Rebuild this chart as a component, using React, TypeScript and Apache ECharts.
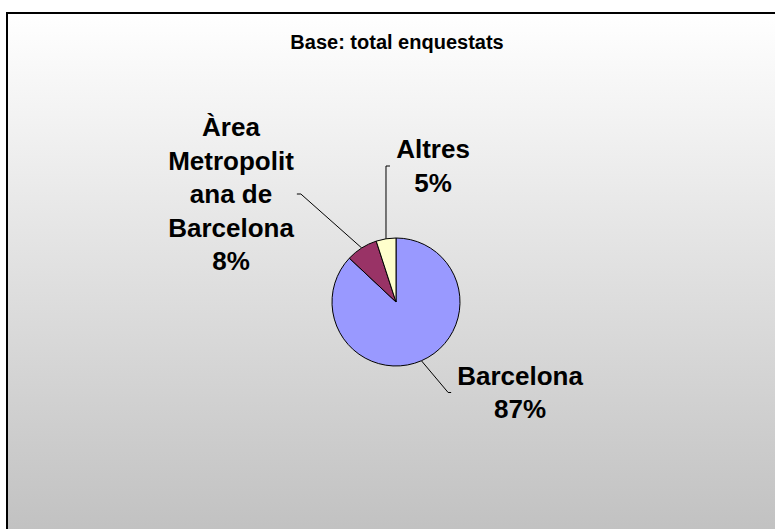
import React, { useEffect, useRef } from "react";
import * as echarts from "echarts";

const title = "Base: total enquestats";
const categories = ["Barcelona", "Àrea Metropolitana de Barcelona", "Altres"];
const labelTexts = ["Barcelona", "Àrea\nMetropolit\nana de\nBarcelona", "Altres"];
const values = [87, 8, 5];
const colors = ["#9999FF", "#993366", "#FFFFCC"];

// label layout (centre of each label block, and how the leader line joins it)
const labelLayoutCfg = [
  { x: 520, y: 392.5, side: "left", vertical: false },
  { x: 231, y: 194, side: "right", vertical: false },
  { x: 433, y: 166, side: "left", vertical: true },
];

const FONT = "'Liberation Sans', Arial, Helvetica, sans-serif";

export default function App() {
  const ref = useRef<HTMLDivElement>(null);
  useEffect(() => {
    if (!ref.current) return;
    const chart = echarts.init(ref.current, null, { renderer: "svg" });
    chart.setOption({
      animation: false,
      graphic: [
        {
          type: "rect",
          z: -10,
          shape: { x: 7, y: 13, width: 800, height: 530 },
          style: {
            fill: new echarts.graphic.LinearGradient(0, 0, 0, 1, [
              { offset: 0, color: "#FFFFFF" },
              { offset: 1, color: "#C0C0C0" },
            ]),
            stroke: "#000000",
            lineWidth: 2,
          },
        },
        {
          type: "text",
          x: 397,
          y: 42,
          style: {
            text: title,
            fill: "#000",
            font: `bold 20px ${FONT}`,
            align: "center",
            verticalAlign: "middle",
          },
        },
      ],
      series: [
        {
          type: "pie",
          center: [396, 302],
          radius: 64,
          startAngle: 90,
          clockwise: true,
          avoidLabelOverlap: false,
          percentPrecision: 0,
          itemStyle: { borderColor: "#000", borderWidth: 1 },
          label: {
            show: true,
            position: "outside",
            color: "#000",
            fontFamily: FONT,
            fontWeight: "bold",
            fontSize: 26,
            lineHeight: 33.5,
            align: "center",
            formatter: (p: any) => `${labelTexts[p.dataIndex]}\n${Math.round(p.percent)}%`,
          },
          labelLine: {
            show: true,
            length: 10,
            length2: 5,
            lineStyle: { color: "#000", width: 1 },
          },
          labelLayout: (params: any) => {
            const cfg = labelLayoutCfg[params.dataIndex];
            const w = params.labelRect ? params.labelRect.width : 100;
            const anchor = params.labelLinePoints ? params.labelLinePoints[0] : [cfg.x, cfg.y];
            let end, bend;
            if (cfg.vertical) {
              bend = [anchor[0], cfg.y];
              end = [anchor[0] + 4, cfg.y];
            } else if (cfg.side === "left") {
              const ex = cfg.x - w / 2 - 6;
              end = [ex, cfg.y];
              bend = [ex - 3, cfg.y];
            } else {
              const ex = cfg.x + w / 2 + 3;
              end = [ex, cfg.y];
              bend = [ex + 4, cfg.y];
            }
            return {
              x: cfg.x,
              y: cfg.y,
              align: "center",
              verticalAlign: "middle",
              labelLinePoints: [anchor, bend, end],
            };
          },
          data: categories.map((name, i) => ({
            name,
            value: values[i],
            itemStyle: { color: colors[i] },
          })),
        },
      ],
    });
    return () => chart.dispose();
  }, []);
  return (
    <div
      ref={ref}
      style={{ position: "absolute", left: 0, top: 0, width: 775, height: 529 }}
    />
  );
}
